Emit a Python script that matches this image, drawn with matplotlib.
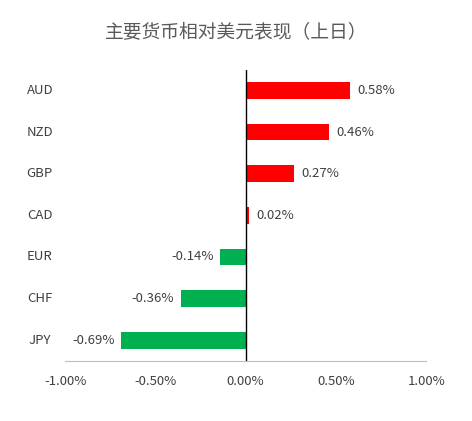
import matplotlib.pyplot as plt

plt.rcParams['font.family'] = ['Noto Sans CJK SC', 'DejaVu Sans']

currencies = ['AUD', 'NZD', 'GBP', 'CAD', 'EUR', 'CHF', 'JPY']
changes = [0.58, 0.46, 0.27, 0.02, -0.14, -0.36, -0.69]
xticks = [-1.0, -0.5, 0.0, 0.5, 1.0]

fig = plt.figure(figsize=(4.72, 4.21), dpi=100)
ax = fig.add_axes([0.138, 0.1425, 0.765, 0.692])

ypos = list(range(len(currencies)))[::-1]
colors = ['#FF0000' if v >= 0 else '#00B050' for v in changes]
ax.barh(ypos, changes, height=0.4, color=colors)

for y, v in zip(ypos, changes):
    if v >= 0:
        ax.text(v + 0.04, y, f'{v:.2f}%', va='center', ha='left', fontsize=9.5, color='#404040')
    else:
        ax.text(v - 0.035, y, f'{v:.2f}%', va='center', ha='right', fontsize=9.5, color='#404040')

ax.set_xlim(-1.0, 1.0)
ax.set_ylim(-0.5, 6.5)
ax.set_xticks(xticks)
ax.set_xticklabels([f'{t:.2f}%' for t in xticks], fontsize=9.5, color='#404040')
ax.tick_params(axis='x', length=0, pad=10)
ax.set_yticks([])

for y, c in zip(ypos, currencies):
    ax.text(-1.14, y, c, va='center', ha='center', fontsize=9.5, color='#404040')

ax.axvline(0, color='black', linewidth=1)
for s in ['top', 'right', 'left']:
    ax.spines[s].set_visible(False)
ax.spines['bottom'].set_color('#BFBFBF')

fig.text(0.5, 0.925, '主要货币相对美元表现（上日）', ha='center', va='center', fontsize=13.5, color='#595959')

fig.savefig('out.png', dpi=100)
